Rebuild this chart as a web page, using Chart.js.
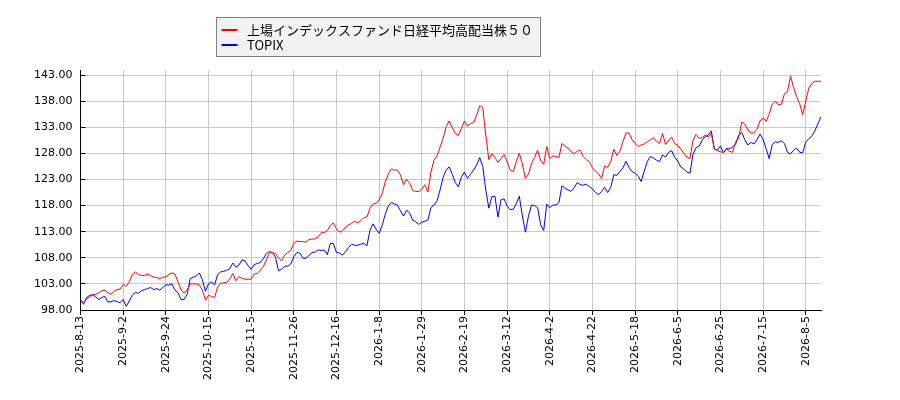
<!DOCTYPE html>
<html>
<head>
<meta charset="utf-8">
<script src="https://cdn.jsdelivr.net/npm/chart.js@4/dist/chart.umd.min.js"></script>
<style>
  html, body { margin: 0; padding: 0; background: #fff; }
  canvas { display: block; }
</style>
</head>
<body>
<canvas id="chart" width="900" height="400"></canvas>
<script>
// ticks on the x axis, one every 14 trading days
const tickDates = ['2025-8-13', '2025-9-2', '2025-9-24', '2025-10-15', '2025-11-5', '2025-11-26',
    '2025-12-16', '2026-1-8', '2026-1-29', '2026-2-19', '2026-3-12', '2026-4-2', '2026-4-22',
    '2026-5-18', '2026-6-5', '2026-6-25', '2026-7-15', '2026-8-5'];
const tickStep = 14;

const yTickValues = [98, 103, 108, 113, 118, 123, 128, 133, 138, 143];

const fundLabel = '上場インデックスファンド日経平均高配当株５０';
const topixLabel = 'TOPIX';

// values, one per trading day
const fundValues = [
    99.6, 99.5, 100.1, 100.5, 100.9, 101.0, 101.3, 101.7, 101.8, 101.3, 101.0, 101.6, 101.9, 102.0, 102.9,
    102.5, 103.4, 104.8, 105.3, 104.8, 104.6, 104.6, 104.9, 104.6, 104.3, 104.2, 104.0, 104.3, 104.3, 104.8,
    105.1, 104.9, 103.4, 101.8, 101.3, 101.8, 103.0, 103.0, 103.0, 102.8, 101.8, 99.9, 100.8, 100.6, 100.4,
    102.4, 103.1, 103.2, 103.3, 104.0, 105.0, 103.6, 104.4, 104.1, 103.9, 103.9, 103.9, 104.9, 105.0, 105.6,
    106.3, 107.6, 108.9, 109.0, 108.8, 108.0, 107.4, 108.5, 109.0, 109.4, 110.8, 111.2, 111.1, 111.1, 111.0,
    111.5, 111.6, 111.6, 112.0, 112.8, 112.8, 113.2, 114.2, 114.7, 113.5, 112.9, 113.2, 113.9, 114.3, 114.6,
    115.0, 114.7, 115.1, 115.7, 115.8, 117.5, 118.3, 118.4, 119.1, 120.3, 122.5, 124.0, 125.0, 124.8, 124.8,
    123.9, 122.0, 123.0, 122.3, 120.9, 120.7, 120.7, 121.1, 122.0, 120.6, 124.4, 126.7, 127.5, 129.2, 130.9,
    133.1, 134.2, 132.9, 131.8, 131.4, 132.8, 134.2, 133.2, 133.7, 133.9, 135.3, 137.1, 136.8, 131.5, 126.8,
    127.9, 127.2, 126.3, 127.0, 127.8, 126.4, 124.8, 124.5, 126.4, 128.0, 126.0, 123.2, 124.0, 126.0, 127.2,
    128.6, 126.6, 125.9, 129.3, 127.0, 127.5, 127.4, 127.2, 129.9, 129.4, 129.0, 128.3, 127.9, 128.4, 128.6,
    127.4, 126.8, 126.4, 125.2, 124.6, 124.1, 123.2, 125.6, 125.3, 126.4, 128.8, 127.6, 128.4, 130.2, 131.9,
    131.9, 130.6, 129.9, 129.3, 129.6, 129.8, 130.2, 130.6, 131.0, 130.3, 129.9, 131.8, 129.7, 130.5, 131.1,
    129.9, 129.5, 128.8, 128.0, 127.3, 127.0, 130.5, 131.6, 130.9, 131.0, 131.5, 131.1, 131.8, 128.9, 128.5,
    128.3, 128.2, 128.9, 128.4, 128.2, 130.2, 131.0, 134.0, 133.6, 132.5, 131.9, 131.9, 132.6, 134.2, 134.8,
    134.1, 135.5, 137.4, 138.0, 137.3, 137.4, 139.4, 139.8, 142.8, 140.6, 138.9, 137.5, 135.4, 138.0, 140.5,
    141.4, 141.8, 141.8, 141.8
];

const topixValues = [
    100.0, 99.1, 100.4, 100.8, 100.9, 100.5, 100.0, 100.4, 100.6, 99.5, 99.6, 99.8, 99.6, 99.4, 100.0,
    98.7, 99.7, 100.8, 101.4, 101.2, 101.7, 101.9, 102.1, 102.3, 101.9, 102.1, 101.8, 102.3, 102.8, 102.8,
    103.0, 101.8, 101.3, 100.0, 100.0, 101.0, 104.0, 104.3, 104.5, 105.1, 103.8, 101.6, 103.0, 103.4, 102.8,
    104.8, 105.3, 105.4, 105.6, 105.9, 107.0, 106.2, 106.6, 107.6, 107.4, 106.5, 105.8, 106.7, 106.9, 107.1,
    107.8, 108.8, 109.2, 109.0, 108.1, 105.5, 105.8, 106.4, 106.4, 106.8, 108.2, 109.0, 108.9, 107.9, 107.9,
    108.5, 109.0, 109.1, 109.5, 109.4, 109.5, 108.6, 110.8, 110.7, 109.0, 108.9, 108.5, 109.2, 110.0, 110.6,
    110.4, 110.4, 110.6, 110.8, 110.3, 113.3, 114.5, 113.5, 112.7, 114.2, 116.3, 117.9, 118.6, 118.3, 118.1,
    117.0, 116.0, 117.1, 116.6, 115.2, 114.9, 114.4, 114.8, 115.0, 115.2, 117.6, 118.1, 118.9, 121.0, 123.4,
    124.8, 125.4, 124.0, 122.4, 121.6, 123.5, 124.4, 123.2, 124.0, 124.8, 125.8, 127.2, 125.5, 121.0, 117.5,
    119.7, 119.8, 115.8, 119.1, 119.3, 117.9, 117.2, 117.3, 118.4, 119.8, 116.0, 112.9, 116.0, 118.1, 118.0,
    117.6, 114.3, 113.2, 118.3, 117.6, 118.1, 118.1, 118.6, 121.8, 121.3, 121.0, 120.7, 121.4, 122.4, 122.0,
    121.9, 122.1, 121.6, 121.2, 120.5, 120.1, 120.7, 121.5, 120.5, 121.5, 123.9, 123.8, 124.5, 125.2, 126.5,
    125.3, 124.5, 124.2, 123.6, 122.6, 124.6, 126.4, 127.4, 127.1, 126.7, 126.4, 127.7, 127.3, 128.2, 128.5,
    127.2, 126.5, 125.4, 125.0, 124.4, 124.2, 127.8, 129.1, 129.4, 130.5, 131.2, 131.5, 132.3, 128.8, 128.6,
    129.4, 128.1, 128.9, 128.9, 129.2, 129.8, 131.5, 132.0, 130.6, 129.6, 130.1, 129.8, 130.6, 131.7, 130.7,
    128.9, 127.0, 129.7, 130.2, 130.1, 130.4, 129.9, 128.2, 127.9, 128.6, 129.0, 128.2, 128.1, 130.1, 130.8,
    131.3, 132.3, 133.7, 135.0
];

const yMin = 98;
const yMax = 143.96;

function toPoints(values) {
    return values.map((v, i) => ({x: i, y: v}));
}

// legend in a grey box, entries stacked
const boxLegend = {
    id: 'boxLegend',
    afterDraw(chart) {
        const ctx = chart.ctx;
        ctx.save();
        ctx.fillStyle = '#f2f2f2';
        ctx.strokeStyle = '#808080';
        ctx.lineWidth = 1;
        ctx.fillRect(216.5, 17.5, 324, 39);
        ctx.strokeRect(216.5, 17.5, 324, 39);
        ctx.font = '13px "Noto Sans CJK JP"';
        ctx.textBaseline = 'middle';
        chart.data.datasets.forEach((ds, i) => {
            const y = 30 + i * 15;
            ctx.strokeStyle = ds.borderColor;
            ctx.lineWidth = 2;
            ctx.beginPath();
            ctx.moveTo(221.5, y);
            ctx.lineTo(237.5, y);
            ctx.stroke();
            ctx.fillStyle = '#000';
            ctx.fillText(ds.label, 247, y);
        });
        ctx.restore();
    }
};

new Chart(document.getElementById('chart'), {
    type: 'line',
    data: {
        datasets: [{
            label: fundLabel,
            data: toPoints(fundValues),
            borderColor: '#ff0000',
            borderWidth: 1,
            pointRadius: 0,
            tension: 0
        }, {
            label: topixLabel,
            data: toPoints(topixValues),
            borderColor: '#0000ff',
            borderWidth: 1,
            pointRadius: 0,
            tension: 0
        }]
    },
    options: {
        responsive: false,
        animation: false,
        layout: {padding: {left: 0, right: 79, top: 70, bottom: 0}},
        plugins: {legend: {display: false}, tooltip: {enabled: false}},
        scales: {
            x: {
                type: 'linear',
                min: 0,
                max: fundValues.length - 1,
                afterBuildTicks: scale => {
                    scale.ticks = tickDates.map((d, i) => ({value: i * tickStep}));
                },
                afterFit: scale => { scale.height = 90; },
                ticks: {
                    autoSkip: false,
                    maxRotation: 90,
                    minRotation: 90,
                    padding: 1,
                    color: '#000',
                    font: {family: 'DejaVu Sans', size: 11},
                    callback: v => tickDates[Math.round(v / tickStep)]
                },
                grid: {color: '#c8c8c8', tickColor: '#000', tickLength: 5},
                border: {color: '#000'}
            },
            y: {
                min: yMin,
                max: yMax,
                afterBuildTicks: scale => {
                    scale.ticks = yTickValues.map(v => ({value: v}));
                },
                afterFit: scale => { scale.width = 80.5; },
                ticks: {
                    padding: 13,
                    color: '#000',
                    font: {family: 'DejaVu Sans', size: 11},
                    callback: v => v.toFixed(2)
                },
                // tick marks point into the plot, as in the reference
                grid: {color: '#c8c8c8', tickColor: '#000', tickLength: -5},
                border: {color: '#000'}
            }
        }
    },
    plugins: [boxLegend]
});
</script>
</body>
</html>
